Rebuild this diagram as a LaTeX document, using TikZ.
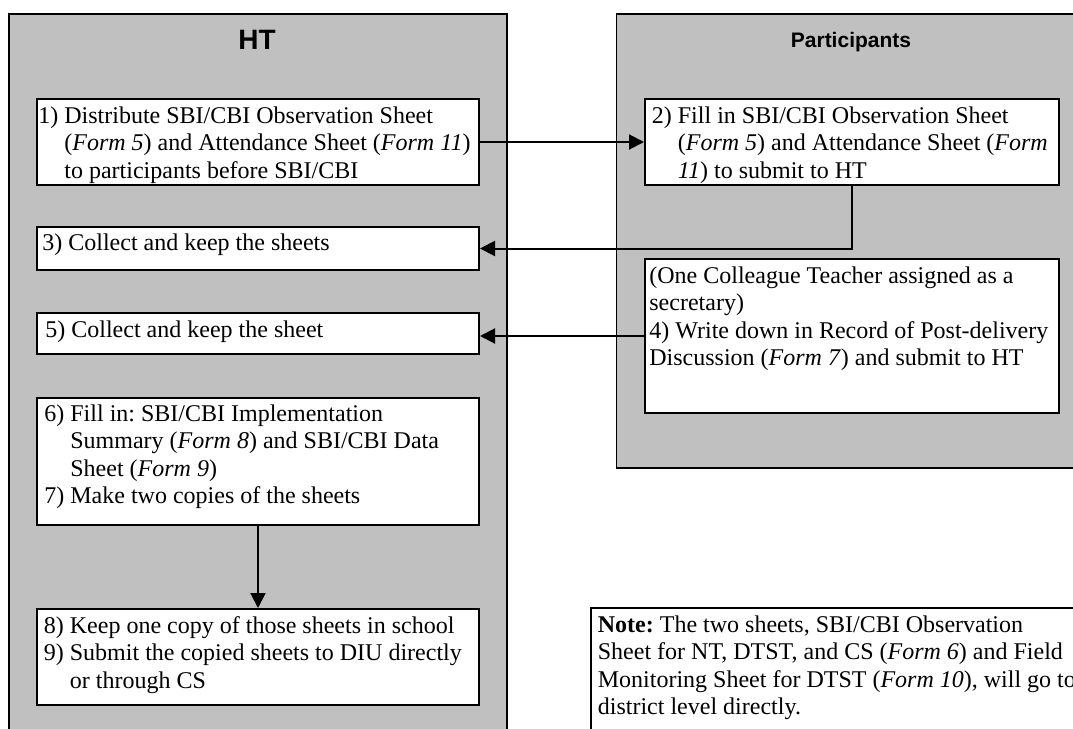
\documentclass[tikz,border=0pt]{standalone}
\usepackage{fontspec}
\setmainfont{Liberation Serif}
\newfontfamily\headfont{Liberation Sans}
\usetikzlibrary{arrows.meta}
\definecolor{panelgrey}{RGB}{192,192,192}
\frenchspacing
% hanging indent for continuation lines of a numbered step
\newcommand\hind{\hspace*{13pt}}
\newcommand\fm[1]{\textit{Form #1}}
\begin{document}
\begin{tikzpicture}[x=0.5pt,y=-0.5pt,
  panel/.style={draw=black, line width=0.75pt, fill=panelgrey, anchor=north west, inner sep=0pt},
  stepbox/.style={draw=black, line width=1pt, fill=white, anchor=north west, inner sep=0pt},
  notebox/.style={draw=black, line width=0.75pt, fill=white, anchor=north west, inner sep=0pt},
  % texts are placed by the baseline of their last line
  txt/.style={anchor=base west, align=left, inner sep=0pt, font=\fontsize{12}{13.8}\selectfont\frenchspacing},
  title/.style={anchor=base, inner sep=0pt, font=\headfont\bfseries},
  conn/.style={line width=1pt, -{Triangle[length=7.5pt,width=7.5pt]}}]
\useasboundingbox (0,0) rectangle (1073,729);
\fill[white] (0,0) rectangle (1073,729);
\clip (0,0) rectangle (1073,729);

% swimlanes
\node[panel, minimum width=249pt, minimum height=373.5pt] (ht) at (8,13) {};
\node[panel, minimum width=242.5pt, minimum height=227pt] (pp) at (615.5,13) {};
\node[title, font=\headfont\bfseries\fontsize{14}{16}\selectfont] (htt) at (257,49) {HT};
\node[title, font=\headfont\bfseries\fontsize{10.5}{12}\selectfont] (ppt) at (851,47) {Participants};

% step boxes
\node[stepbox, minimum width=221pt, minimum height=43pt] (b1) at (36,98) {};
\node[stepbox, minimum width=207pt, minimum height=43pt] (b2) at (644,98) {};
\node[stepbox, minimum width=221pt, minimum height=21.5pt] (b3) at (36,226) {};
\node[stepbox, minimum width=207pt, minimum height=77pt] (b4) at (644,258) {};
\node[stepbox, minimum width=221pt, minimum height=20.5pt] (b5) at (36,312) {};
\node[stepbox, minimum width=221pt, minimum height=63.5pt] (b6) at (36,397) {};
\node[stepbox, minimum width=221pt, minimum height=48pt] (b8) at (36,608) {};
\node[notebox, minimum width=255pt, minimum height=76.5pt] (nb) at (590,607) {};

% step texts
\node[txt] (t1) at (38,178.2) {1) Distribute SBI/CBI Observation Sheet\\
  \hind(\fm{5}) and Attendance Sheet (\fm{11})\\
  \hind to participants before SBI/CBI};
\node[txt] (t2) at (651.5,178.2) {2) Fill in SBI/CBI Observation Sheet\\
  \hind(\fm{5}) and Attendance Sheet (\textit{Form}\\
  \hind\textit{11}) to submit to HT};
\node[txt] (t3) at (42,250) {3) Collect and keep the sheets};
\node[txt] (t4) at (649,365.8) {(One Colleague Teacher assigned as a\\
  secretary)\\
  4) Write down in Record of Post-delivery\\
  Discussion (\fm{7}) and submit to HT};
\node[txt] (t5) at (45,337) {5) Collect and keep the sheet};
\node[txt] (t6) at (44,503.8) {6) Fill in: SBI/CBI Implementation\\
  \hind Summary (\fm{8}) and SBI/CBI Data\\
  \hind Sheet (\fm{9})\\
  7) Make two copies of the sheets};
\node[txt] (t8) at (43.5,688.2) {8) Keep one copy of those sheets in school\\
  9) Submit the copied sheets to DIU directly\\
  \hind or through CS};
\node[txt] (tn) at (597.5,714.8) {\textbf{Note:} The two sheets, SBI/CBI Observation\\
  Sheet for NT, DTST, and CS (\fm{6}) and Field\\
  Monitoring Sheet for DTST (\fm{10}), will go to\\
  district level directly.};

% connectors
\draw[conn] (b1) -- (b2);
\draw[conn] (b2.south) |- (b3.east);
\draw[conn] (b4.west) -- (b4.west -| b5.east);
\draw[conn] (b6) -- (b8);
\end{tikzpicture}
\end{document}
